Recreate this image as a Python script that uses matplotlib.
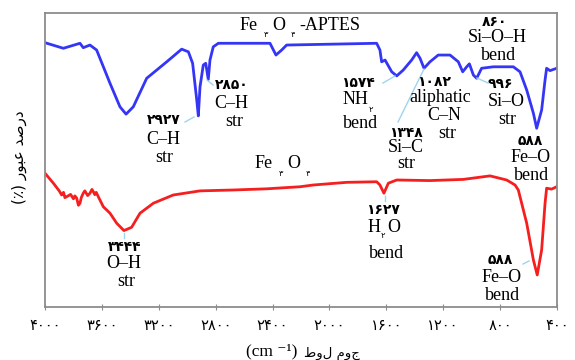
import numpy as np
import matplotlib.pyplot as plt

# Fe3O4-APTES spectrum (blue): wavenumber (cm-1) and relative transmittance
aptes_wn = [4000, 3871, 3754, 3731, 3684, 3637, 3543, 3473, 3430, 3379,
            3285, 3144, 3039, 2992, 2962, 2933, 2922, 2910, 2887, 2870,
            2852, 2840, 2817, 2781, 2418, 2376, 2336, 2301, 1668, 1645,
            1633, 1609, 1562, 1527, 1481, 1422, 1387, 1363, 1335, 1293,
            1235, 1152, 1094, 1063, 1035, 1016, 988, 965, 930, 848,
            707, 660, 613, 566, 543, 508, 484, 473, 449, 402]
aptes_t = [89.9, 88.0, 89.7, 88.2, 89.1, 87.4, 76.1, 68.1, 65.6, 68.1,
           77.8, 83.4, 87.7, 86.8, 82.9, 70.4, 65.0, 74.9, 82.3, 82.9,
           77.4, 84.0, 88.5, 89.7, 89.7, 85.7, 87.4, 89.1, 89.7, 87.4,
           83.4, 84.0, 80.0, 78.6, 80.6, 84.0, 86.5, 84.6, 81.2, 83.4,
           85.7, 85.7, 83.4, 80.0, 81.7, 82.7, 78.9, 77.8, 81.2, 81.7,
           81.7, 80.0, 73.8, 65.9, 60.8, 67.0, 77.2, 81.2, 80.4, 81.2]

# bare Fe3O4 spectrum (red)
fe_wn = [4000, 3941, 3900, 3883, 3870, 3860, 3848, 3820, 3800, 3790,
         3777, 3765, 3754, 3745, 3731, 3720, 3700, 3684, 3670, 3660,
         3650, 3640, 3625, 3590, 3543, 3496, 3445, 3391, 3332, 3238,
         3098, 2910, 2676, 2441, 2207, 2113, 1879, 1668, 1645, 1617,
         1586, 1527, 1293, 1059, 871, 754, 695, 672, 613, 566,
         539, 508, 484, 473, 438, 402]
fe_t = [45.5, 42.1, 39.5, 38.1, 39.0, 37.2, 37.5, 38.3, 36.8, 37.8,
        37.0, 34.6, 35.3, 37.2, 38.7, 39.5, 37.9, 38.7, 40.0, 39.2,
        38.2, 39.0, 37.5, 34.1, 31.9, 28.5, 26.0, 27.1, 31.9, 35.3,
        38.1, 39.5, 39.8, 40.2, 40.9, 41.5, 42.4, 42.6, 41.5, 38.7,
        42.1, 43.2, 43.0, 43.4, 44.6, 43.2, 41.5, 39.8, 28.5, 16.0,
        10.9, 19.4, 35.3, 40.4, 40.1, 40.9]

xticks = [4000, 3600, 3200, 2800, 2400, 2000, 1600, 1200, 800, 400]

# peak labels
aptes_peaks = [2927, 2850, 1574, 1348, 1082, 996, 860, 588]
aptes_bands = [['C–H', 'str'], ['C–H', 'str'], ['NH', 'bend'], ['Si–C', 'str'],
               ['aliphatic', 'C–N', 'str'], ['Si–O', 'str'],
               ['Si–O–H', 'bend'], ['Fe–O', 'bend']]
fe_peaks = [3444, 1627, 588]
fe_bands = [['O–H', 'str'], ['H', 'bend'], ['Fe–O', 'bend']]

FA = str.maketrans('0123456789', '۰۱۲۳۴۵۶۷۸۹')


def fa(n):
    return str(n).translate(FA)


SERIF = ['Liberation Serif', 'DejaVu Sans']
SANS = ['DejaVu Sans']


def px(x, y):
    # picture pixel -> data coords (axes spans x 45..557, y 13..307)
    return 4000 - (x - 45) * 3600 / 512, (307 - y) / 2.94


fig = plt.figure(figsize=(5.75, 3.6), dpi=100)
ax = fig.add_axes([45 / 575, 53 / 360, 512 / 575, 294 / 360])

ax.plot(aptes_wn, aptes_t, color='#3535f5', lw=2.0, solid_joinstyle='round')
ax.plot(fe_wn, fe_t, color='#f51f1f', lw=2.0, solid_joinstyle='round')

ax.set_xlim(4000, 400)
ax.set_ylim(0, 100)
ax.set_yticks([])
ax.set_xticks(xticks)
ax.set_xticklabels([fa(t) for t in xticks], family=SANS, fontsize=10.5)
ax.tick_params(axis='x', direction='inout', length=4, color='#8c8c8c', pad=6)
for s in ax.spines.values():
    s.set_color('#8c8c8c')
    s.set_linewidth(1.3)


def put(x, y, s, size=13, family=SERIF, **kw):
    xx, yy = px(x, y)
    kw.setdefault('ha', 'center')
    kw.setdefault('va', 'center')
    ax.text(xx, yy, s, fontsize=size, family=family, **kw)


def leader(x0, y0, x1, y1):
    a, b = px(x0, y0)
    c, d = px(x1, y1)
    ax.plot([a, c], [b, d], color='#9fd4f0', lw=1.0)


# label layout: number position, then one position per text line
aptes_pos = [((164, 120), [(163, 140), (164, 158)]),
             ((232, 85), [(231, 103), (234, 121)]),
             ((358, 83), [(355, 99), (361, 124)]),
             ((406, 133), [(406, 148), (406, 164)]),
             ((434, 82), [(440, 98), (444, 116), (447, 134)]),
             ((500, 84), [(506, 102), (507, 119)]),
             ((495, 22), [(497, 38), (499, 56)]),
             ((530, 141), [(531, 157), (532, 175)])]
fe_pos = [((125, 247), [(124, 263), (126, 282)]),
          ((383, 210), [(374, 228), (387, 254)]),
          ((500, 260), [(502, 277), (503, 296)])]

for pk, band, (npos, lpos) in zip(aptes_peaks + fe_peaks,
                                  aptes_bands + fe_bands,
                                  aptes_pos + fe_pos):
    put(npos[0], npos[1], fa(pk), size=10, family=SANS, weight='bold')
    for line, (lx, ly) in zip(band, lpos):
        put(lx, ly, line)

# subscripts in NH2 and H2O
put(371, 110, fa(2), size=6, family=SANS)
put(383, 236, fa(2), size=6, family=SANS)
put(394, 228, 'O')

leader(185, 122, 194, 117)
leader(207, 80, 213, 85)
leader(383, 83, 395, 76)
leader(398, 122, 424, 69)
leader(477, 78, 488, 83)
leader(124, 233, 124, 238)
leader(385, 196, 385, 201)
leader(523, 264, 529, 261)

# sample names
put(240, 30, 'Fe', ha='left', va='baseline')
put(264, 37, fa(3), ha='left', va='baseline', size=6, family=SANS)
put(272, 30, 'O', ha='left', va='baseline')
put(291, 37, fa(4), ha='left', va='baseline', size=6, family=SANS)
put(299, 30, '-APTES', ha='left', va='baseline')

put(255, 168, 'Fe', ha='left', va='baseline')
put(279, 176, fa(3), ha='left', va='baseline', size=6, family=SANS)
put(287, 168, 'O', ha='left', va='baseline')
put(306, 176, fa(4), ha='left', va='baseline', size=6, family=SANS)

# axis titles
fig.text(272 / 575, 1 - 351 / 360, '(cm ⁻¹)', family=SERIF,
         fontsize=12.5, ha='center', va='center')
fig.text(332 / 575, 1 - 353 / 360, 'طول موج', family=SANS,
         fontsize=9.5, ha='center', va='center')
ylab = '(٪) ' + '\uFEAD\uFEEE\uFE92\uFECB' + ' ' + '\uFEAA\uFEBB\uFEAD\uFEA9'
fig.text(19 / 575, 1 - 157 / 360, ylab, family=SANS, fontsize=11,
         rotation=90, ha='center', va='center')

fig.savefig('out.png', dpi=100)
